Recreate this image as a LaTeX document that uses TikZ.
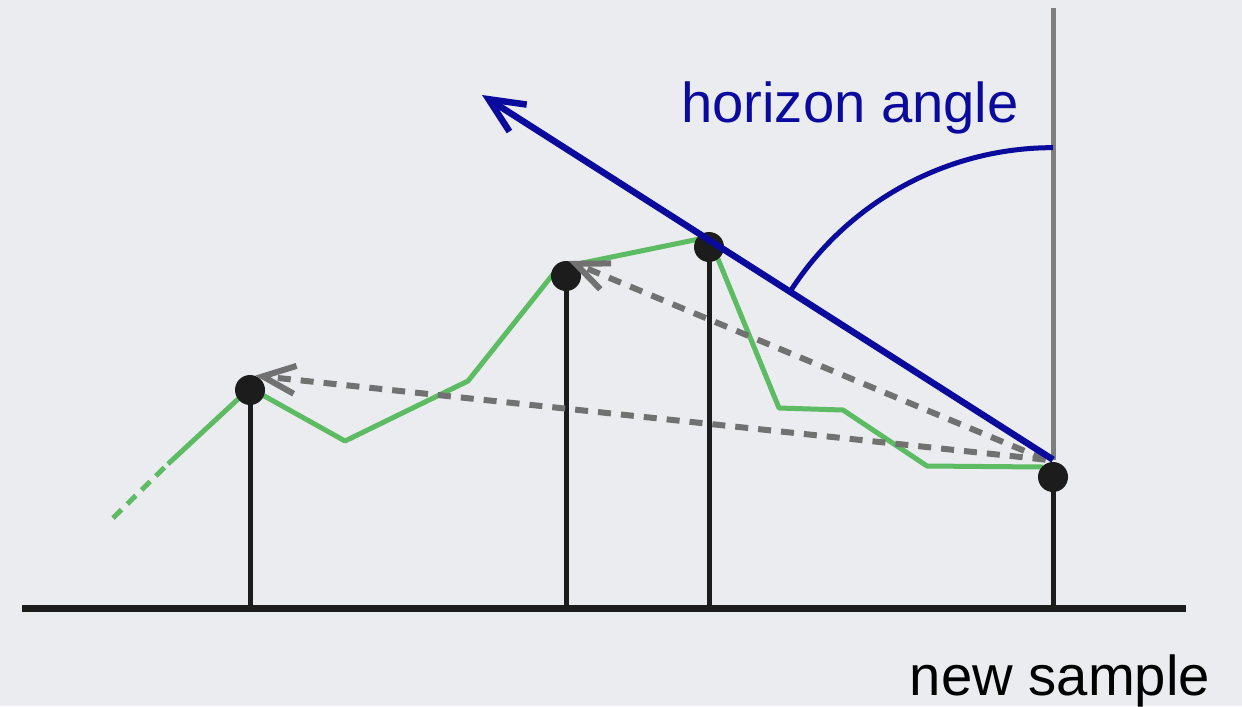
\documentclass[tikz,border=0pt]{standalone}
\usepackage{fontspec}
\setmainfont{Liberation Sans}
\usepackage{tikz}
\usetikzlibrary{arrows.meta, calc}
\definecolor{paper}{HTML}{EBECEF}
\definecolor{horizonblue}{HTML}{0A0A9C}
\definecolor{ridgegreen}{HTML}{5DBB63}
\definecolor{raygray}{HTML}{717171}
\definecolor{polegray}{HTML}{7E7E7E}
\definecolor{inkblack}{HTML}{1C1C1C}

\begin{document}
\begin{tikzpicture}[x=0.2mm, y=-0.2mm, font=\fontsize{32}{38}\selectfont,
  sample/.style={circle, fill=inkblack, inner sep=0pt, minimum size=6mm},
  stem/.style={inkblack, line width=1mm},
  terrain/.style={ridgegreen, line width=1mm, line join=round},
  sightline/.style={raygray, line width=1.2mm, dash pattern=on 2.6mm off 2mm,
    -{Straight Barb[length=6.5mm, width=5.6mm]}},
  horizonline/.style={horizonblue, line width=1.3mm,
    -{Straight Barb[length=7mm, width=6.4mm]}}]
  \useasboundingbox (0,0) rectangle (1242,706);
  \fill[paper] (0,0) rectangle (1242,706);
  % terrain profile
  \draw[terrain, dash pattern=on 2.4mm off 1.6mm] (113,518) -- (168,464);
  \draw[terrain] (168,464) -- (250,388) -- (345,441) -- (468,381) -- (558,268) -- (709,237) -- (779,408) -- (843,410) -- (927,466) -- (1043,467);
  % ground and stems
  \coordinate (gl) at (22,608);
  \coordinate (gr) at (1186,608);
  \draw[inkblack, line width=1.4mm] (gl) -- (gr);
  \coordinate (g1) at (250,608);
  \coordinate (g2) at (566,608);
  \coordinate (g3) at (709,608);
  \coordinate (g4) at (1053,608);
  \node[sample] (s1) at (250,390) {};
  \node[sample] (s2) at (566,276) {};
  \node[sample] (s3) at (709,247) {};
  \node[sample] (s4) at (1053,477) {};
  \draw[stem] (s1.center) -- (g1);
  \draw[stem] (s2.center) -- (g2);
  \draw[stem] (s3.center) -- (g3);
  \draw[stem] (s4.center) -- (g4);
  \coordinate (apex) at ([yshift=0.4mm]s4.north);
  \coordinate (top) at (1053,8);
  \draw[polegray, line width=1mm] (apex) -- (top);
  % rays to earlier samples
  \draw[sightline] ([xshift=-1.5mm]apex) -- (s1.70);
  \draw[sightline] ([xshift=-1.5mm]apex) -- (s2.80);
  % horizon
  \coordinate (tip) at (482,95);
  \draw[horizonline] (apex) -- (tip);
  \draw[horizonblue, line width=1mm] (apex) ++(0mm,62.4mm) arc[start angle=90, end angle=147, radius=62.4mm];
  \node[text=horizonblue, anchor=base] (label) at (850,122) {horizon angle};
  \node[anchor=base] (caption) at (1060,695) {new sample};
\end{tikzpicture}
\end{document}
